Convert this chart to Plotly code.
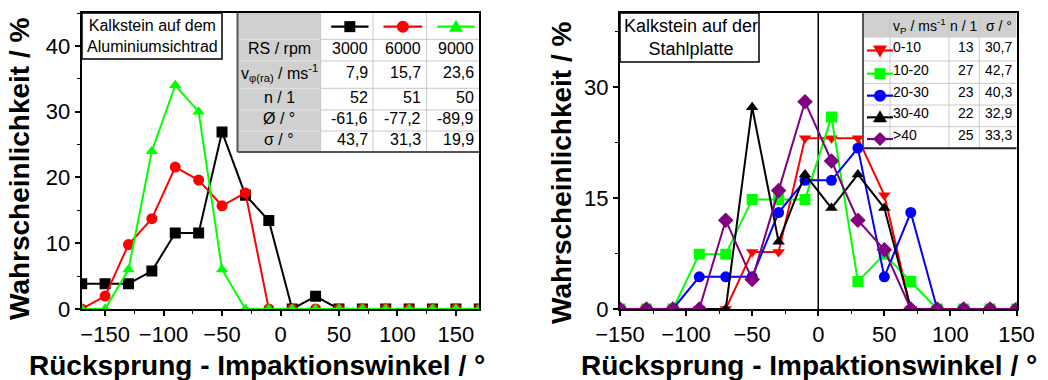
import plotly.graph_objects as go

W, H = 1048, 380
FONT = "Arial, Liberation Sans, sans-serif"

# ---------------- data: Kalkstein auf dem Aluminiumsichtrad ----------------
angle_al = [-170, -150, -130, -110, -90, -70, -50, -30, -10,
            10, 30, 50, 70, 90, 110, 130, 150, 170]
p_rs3000 = [3.85, 3.85, 3.85, 5.77, 11.54, 11.54, 26.92, 17.31, 13.46,
            0, 1.92, 0, 0, 0, 0, 0, 0, 0]
p_rs6000 = [0, 1.96, 9.80, 13.73, 21.57, 19.61, 15.69, 17.65, 0,
            0, 0, 0, 0, 0, 0, 0, 0, 0]
p_rs9000 = [0, 0, 6.0, 24.0, 34.0, 30.0, 6.0, 0, 0,
            0, 0, 0, 0, 0, 0, 0, 0, 0]

tbl_al_labels = ["RS / rpm", "v<sub>φ(ra)</sub> / ms<sup>-1</sup>", "n / 1", "Ø / °", "σ / °"]
tbl_al_3000 = ["3000", "7,9", "52", "-61,6", "43,7"]
tbl_al_6000 = ["6000", "15,7", "51", "-77,2", "31,3"]
tbl_al_9000 = ["9000", "23,6", "50", "-89,9", "19,9"]

# ---------------- data: Kalkstein auf der Stahlplatte ----------------
angle_st = [-150, -130, -110, -90, -70, -50, -30, -10,
            10, 30, 50, 70, 90, 110, 130, 150]
p_v0_10 = [0, 0, 0, 0, 0, 7.69, 7.69, 23.08, 23.08, 23.08, 15.38, 0, 0, 0, 0, 0]
p_v10_20 = [0, 0, 0, 7.41, 7.41, 14.81, 14.81, 14.81, 25.93, 3.70, 7.41, 3.70, 0, 0, 0, 0]
p_v20_30 = [0, 0, 0, 4.35, 4.35, 4.35, 13.04, 17.39, 17.39, 21.74, 4.35, 13.04, 0, 0, 0, 0]
p_v30_40 = [0, 0, 0, 0, 0, 27.27, 9.09, 18.18, 13.64, 18.18, 13.64, 0, 0, 0, 0, 0]
p_v40 = [0, 0, 0, 0, 12.0, 4.0, 16.0, 28.0, 20.0, 12.0, 8.0, 0, 0, 0, 0, 0]

vp_classes = ["0-10", "10-20", "20-30", "30-40", ">40"]
vp_n = ["13", "27", "23", "22", "25"]
vp_sigma = ["30,7", "42,7", "40,3", "32,9", "33,3"]

# ---------------- styles ----------------
BLACK, RED, GREEN, BLUE, PURPLE = "#000000", "#ff0000", "#00ff00", "#0000ff", "#800080"
left_series = [
    (p_rs3000, BLACK, "square"),
    (p_rs6000, RED, "circle"),
    (p_rs9000, GREEN, "triangle-up"),
]
right_series = [
    (p_v0_10, RED, "triangle-down"),
    (p_v10_20, GREEN, "square"),
    (p_v20_30, BLUE, "circle"),
    (p_v30_40, BLACK, "triangle-up"),
    (p_v40, PURPLE, "diamond"),
]


def px(x):
    return x / W


def py(y):
    return 1 - y / H


fig = go.Figure()
for ys, col, sym in left_series:
    fig.add_trace(go.Scatter(
        x=angle_al, y=ys, mode="lines+markers", xaxis="x", yaxis="y",
        line=dict(color=col, width=2),
        marker=dict(symbol=sym, size=11, color=col, line=dict(width=0)),
        showlegend=False, hoverinfo="skip"))
for ys, col, sym in right_series:
    fig.add_trace(go.Scatter(
        x=angle_st, y=ys, mode="lines+markers", xaxis="x2", yaxis="y2",
        line=dict(color=col, width=2),
        marker=dict(symbol=sym, size=12 if sym == "diamond" else 11, color=col, line=dict(width=0)),
        showlegend=False, hoverinfo="skip"))

shapes = []
annotations = []


def rect(x0, y0, x1, y1, fill=None, line_color=None, lw=0):
    shapes.append(dict(type="rect", xref="paper", yref="paper",
                       x0=px(x0), x1=px(x1), y0=py(y1), y1=py(y0),
                       fillcolor=fill or "rgba(0,0,0,0)",
                       line=dict(color=line_color or "rgba(0,0,0,0)", width=lw),
                       layer="below"))


def seg(x0, y0, x1, y1, color, lw):
    shapes.append(dict(type="line", xref="paper", yref="paper",
                       x0=px(x0), x1=px(x1), y0=py(y0), y1=py(y1),
                       line=dict(color=color, width=lw), layer="below"))


def text(x, y, s, size, xanchor="center", bold=False, color="black"):
    annotations.append(dict(xref="paper", yref="paper", x=px(x), y=py(y),
                            text=f"<b>{s}</b>" if bold else s, showarrow=False,
                            xanchor=xanchor, yanchor="middle",
                            font=dict(family=FONT, size=size, color=color)))


def poly(points, color):
    d = "M " + " L ".join(f"{px(a):.6f},{py(b):.6f}" for a, b in points) + " Z"
    shapes.append(dict(type="path", xref="paper", yref="paper", path=d,
                       fillcolor=color, line=dict(color=color, width=0), layer="below"))


def icon(xa, xb, cy, color, symbol):
    seg(xa, cy, xb, cy, color, 2.2)
    cx = (xa + xb) / 2
    r = 5.5
    if symbol == "square":
        rect(cx - r, cy - r, cx + r, cy + r, fill=color)
    elif symbol == "circle":
        shapes.append(dict(type="circle", xref="paper", yref="paper",
                           x0=px(cx - 6), x1=px(cx + 6), y0=py(cy + 6), y1=py(cy - 6),
                           fillcolor=color, line=dict(width=0), layer="below"))
    elif symbol == "triangle-up":
        poly([(cx - 7, cy + 5), (cx + 7, cy + 5), (cx, cy - 7)], color)
    elif symbol == "triangle-down":
        poly([(cx - 7, cy - 5), (cx + 7, cy - 5), (cx, cy + 7)], color)
    elif symbol == "diamond":
        poly([(cx - 7, cy), (cx, cy - 7), (cx + 7, cy), (cx, cy + 7)], color)


GRID = "#c8c8c8"
HEAD = "#d0d0d0"
EDGE = "#555555"

# ---------- table inside the left panel ----------
xe = [237.5, 320.7, 373.0, 426.7, 479.3]
ye = [13, 39.3, 61.0, 88.3, 110.0, 131.0, 152.0]
rect(xe[0], ye[0], xe[-1], ye[-1], fill="white")
rect(xe[0], ye[0], xe[1], ye[-1], fill=HEAD)
for y in ye[1:-1]:
    seg(xe[0], y, xe[1], y, "#e4e4e4", 1)
    seg(xe[1], y, xe[-1], y, GRID, 1)
for x in xe[1:-1]:
    seg(x, ye[0], x, ye[-1], GRID, 1)
seg(xe[0], ye[0], xe[0], ye[-1], EDGE, 2)
seg(xe[0], ye[-1], xe[-1], ye[-1], EDGE, 2)
for i, (ys, col, sym) in enumerate(left_series):
    icon(xe[i + 1] + 10.5, xe[i + 2] - 4.5, (ye[0] + ye[1]) / 2 + 0.5, col, sym)
for r, lab in enumerate(tbl_al_labels):
    cy = (ye[r + 1] + ye[r + 2]) / 2 - 2
    text((xe[0] + xe[1]) / 2, cy, lab, 16)
    for c, vals in enumerate([tbl_al_3000, tbl_al_6000, tbl_al_9000]):
        text(xe[c + 2] - 3.5, cy, vals[r], 16, xanchor="right")

# ---------- table inside the right panel ----------
xr = [863.0, 890.0, 949.0, 979.3, 1016.5]
yr = [13, 37.0, 61.0, 83.3, 105.0, 126.7, 148.3]
rect(xr[0], yr[0], xr[-1], yr[-1], fill="white")
rect(xr[0], yr[0], xr[-1], yr[1], fill=HEAD)
for y in yr[1:-1]:
    seg(xr[0], y, xr[-1], y, GRID, 1)
for x in xr[1:-1]:
    seg(x, yr[0], x, yr[-1], GRID, 1)
seg(xr[0], yr[0], xr[0], yr[-1], EDGE, 2)
seg(xr[0], yr[-1], xr[-1], yr[-1], "#222222", 2)
hy = (yr[0] + yr[1]) / 2 + 1
text(xr[1] + 0.5, hy, "v<sub>P</sub> / ms<sup>-1</sup>", 14, xanchor="left")
text(xr[3] - 0.5, hy, "n / 1", 14, xanchor="right")
text(xr[4] - 2.5, hy, "σ / °", 14, xanchor="right")
for r, (ys, col, sym) in enumerate(right_series):
    cy = (yr[r + 1] + yr[r + 2]) / 2
    icon(867, 893, cy + 1.5, col, sym)
    text(xr[1] + 1, cy - 2.5, vp_classes[r], 14, xanchor="left")
    text(xr[3] - 3, cy - 2.5, vp_n[r], 14, xanchor="right")
    text(xr[4] - 3, cy - 2.5, vp_sigma[r], 14, xanchor="right")

# ---------- sample description boxes ----------
rect(82, 13, 222, 59, fill="white", line_color="black", lw=1.5)
text(85, 36, "Kalkstein auf dem<br>Aluminiumsichtrad", 16, xanchor="left")
rect(620, 13, 759, 62, fill="white", line_color="black", lw=1.5)
text(622, 37.5, "Kalkstein auf der<br>Stahlplatte", 18, xanchor="left")

# zero line in the right panel
shapes.append(dict(type="line", xref="x2", yref="y2 domain", x0=0, x1=0, y0=0, y1=1,
                   line=dict(color="black", width=1.5), layer="below"))

# ---------- axis titles ----------
text(257, 365, "Rücksprung - Impaktionswinkel / °", 28, bold=True)
text(809, 365, "Rücksprung - Impaktionswinkel / °", 28, bold=True)
for xc, yc in [(20, 169), (561, 173)]:
    annotations.append(dict(xref="paper", yref="paper", x=px(xc), y=py(yc),
                            text="<b>Wahrscheinlichkeit / %</b>", textangle=-90,
                            showarrow=False, xanchor="center", yanchor="middle",
                            font=dict(family=FONT, size=28, color="black")))

axis_common = dict(showline=True, linecolor="black", linewidth=2, mirror=True,
                   ticks="outside", ticklen=5, tickwidth=1.5, tickcolor="black",
                   showgrid=False, zeroline=False, automargin=False,
                   tickfont=dict(family=FONT, size=22, color="black"))

fig.update_layout(
    width=W, height=H,
    margin=dict(l=0, r=0, t=0, b=0, autoexpand=False),
    paper_bgcolor="white", plot_bgcolor="rgba(0,0,0,0)",
    xaxis=dict(domain=[px(81.7), px(479.3)], range=[-170, 170], anchor="y",
               tickmode="linear", tick0=0, dtick=50,
               minor=dict(ticks="outside", ticklen=3, tickwidth=1.2, tickcolor="black", dtick=25, tick0=0),
               **axis_common),
    yaxis=dict(domain=[py(309), py(13)], range=[0, 45], anchor="x",
               tickmode="linear", tick0=0, dtick=10,
               minor=dict(ticks="outside", ticklen=3, tickwidth=1.2, tickcolor="black", dtick=5, tick0=0),
               **axis_common),
    xaxis2=dict(domain=[px(620), px(1016.5)], range=[-150, 150], anchor="y2",
                tickmode="linear", tick0=0, dtick=50,
                minor=dict(ticks="outside", ticklen=3, tickwidth=1.2, tickcolor="black", dtick=25, tick0=0),
                **axis_common),
    yaxis2=dict(domain=[py(309), py(13)], range=[0, 40], anchor="x2",
                tickmode="linear", tick0=0, dtick=15,
                minor=dict(ticks="outside", ticklen=3, tickwidth=1.2, tickcolor="black", dtick=7.5, tick0=0),
                **axis_common),
    shapes=shapes,
    annotations=annotations,
)

fig.write_html("out.html")
